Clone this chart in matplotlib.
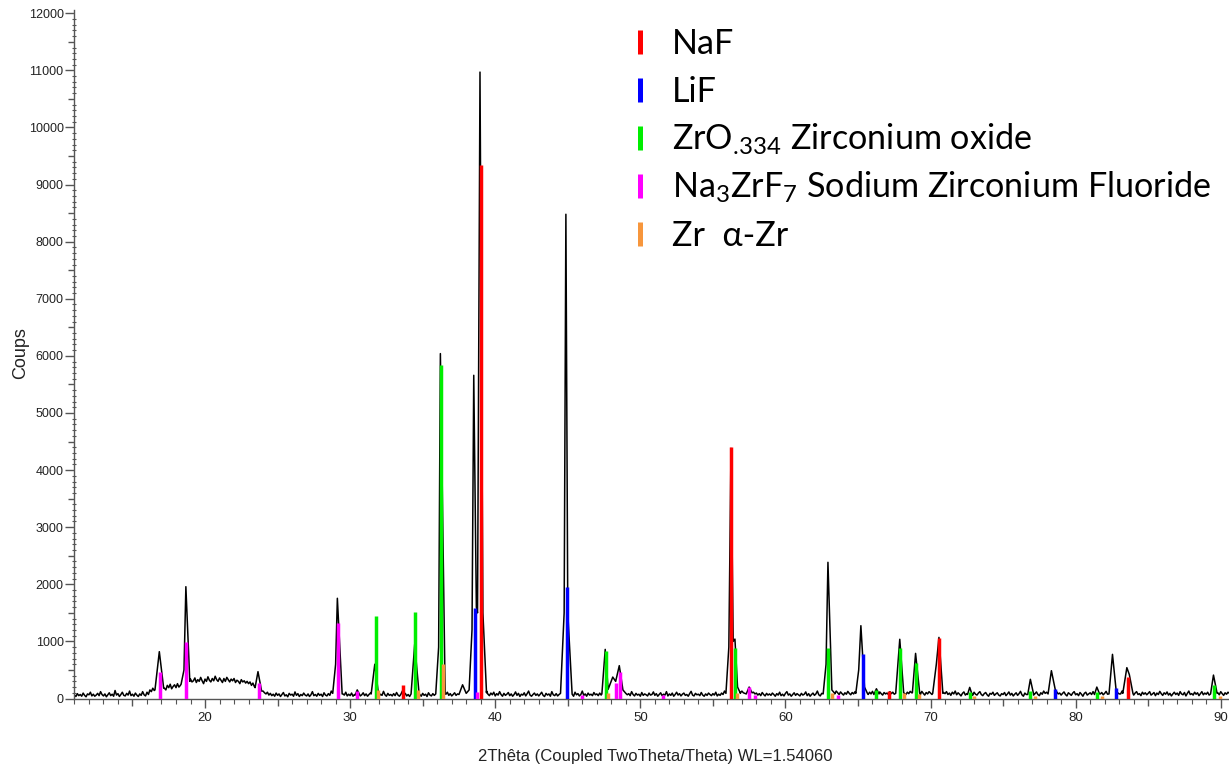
import numpy as np
import matplotlib
matplotlib.use("Agg")
import matplotlib.pyplot as plt
from matplotlib.lines import Line2D
from matplotlib.ticker import MultipleLocator

plt.rcParams['font.family'] = ['Liberation Sans', 'DejaVu Sans']
plt.rcParams['mathtext.fontset'] = 'custom'
plt.rcParams['mathtext.rm'] = 'Lato'
plt.rcParams['mathtext.it'] = 'Lato:italic'
plt.rcParams['mathtext.bf'] = 'Lato:bold'

# background counts, one value every 0.1 deg starting at 11.0
background = [
    60, 35, 85, 50, 70, 40, 95, 55, 30, 80, 65, 110, 45, 75, 40, 60, 90, 50, 120, 70,
    45, 80, 30, 65, 100, 50, 75, 40, 140, 60, 85, 35, 70, 110, 55, 45, 90, 60, 130, 50,
    75, 40, 95, 60, 35, 80, 55, 120, 65, 45, 110, 70, 150, 120, 180, 140, 170, 200, 150, 190,
    160, 220, 180, 150, 230, 190, 250, 170, 210, 240, 190, 260, 200, 230, 280, 250, 300, 270, 320, 280,
    340, 290, 310, 360, 280, 330, 300, 370, 310, 260, 340, 300, 380, 320, 290, 350, 310, 390, 330, 300,
    360, 320, 280, 350, 300, 370, 330, 290, 340, 310, 350, 280, 320, 300, 260, 330, 290, 310, 270, 300,
    260, 290, 230, 270, 210, 250, 200, 180, 220, 160, 130, 100, 80, 110, 60, 90, 50, 75, 40, 95,
    55, 80, 35, 70, 105, 45, 65, 30, 90, 60, 75, 40, 115, 55, 85, 35, 70, 50, 95, 60,
    45, 80, 35, 65, 120, 50, 70, 40, 90, 55, 75, 35, 100, 60, 45, 85, 55, 130, 65, 40,
    70, 45, 90, 55, 35, 80, 60, 110, 45, 75, 50, 95, 40, 70, 120, 55, 85, 45, 65, 100,
    50, 80, 40, 70, 95, 55, 35, 85, 60, 110, 45, 75, 55, 125, 65, 40, 90, 55, 70, 45,
    85, 50, 105, 60, 40, 75, 130, 55, 90, 45, 70, 35, 95, 60, 80, 45, 110, 55, 70, 40,
    90, 55, 75, 35, 100, 60, 45, 85, 55, 120, 65, 40, 80, 50, 95, 60, 75, 110, 55, 85,
    45, 70, 100, 55, 80, 130, 95, 150, 110, 140, 90, 120, 75, 100, 60, 85, 110, 70, 130, 90,
    120, 80, 100, 60, 130, 75, 50, 95, 65, 110, 45, 85, 60, 120, 70, 40, 90, 55, 75, 105,
    50, 80, 40, 70, 115, 55, 90, 35, 75, 60, 100, 45, 85, 130, 60, 40, 70, 95, 55, 80,
    45, 75, 110, 55, 35, 90, 60, 80, 40, 120, 65, 50, 85, 45, 70, 100, 60, 90, 55, 75,
    60, 95, 50, 75, 40, 110, 65, 85, 45, 70, 130, 55, 80, 40, 95, 60, 75, 50, 105, 65,
    80, 50, 95, 60, 120, 150, 110, 90, 140, 170, 200, 160, 230, 190, 240, 200, 170, 130, 110, 90,
    100, 65, 85, 50, 120, 70, 45, 90, 60, 75, 40, 105, 55, 80, 65, 45, 95, 60, 70, 115,
    55, 85, 40, 70, 100, 50, 75, 60, 120, 45, 80, 55, 95, 40, 70, 110, 60, 85, 45, 75,
    95, 55, 70, 40, 85, 125, 60, 45, 90, 65, 75, 50, 105, 60, 40, 80, 55, 95, 70, 50,
    85, 60, 110, 45, 75, 55, 95, 70, 130, 80, 100, 150, 110, 90, 120, 140, 180, 150, 120, 100,
    130, 100, 90, 120, 150, 180, 120, 140, 110, 80, 95, 60, 85, 50, 105, 70, 45, 90, 60, 80,
    55, 95, 70, 40, 85, 60, 110, 50, 75, 45, 90, 120, 60, 80, 40, 70, 100, 55, 85, 65,
    45, 90, 60, 75, 115, 50, 85, 40, 70, 95, 55, 80, 130, 65, 45, 90, 60, 110, 75, 95,
    120, 90, 140, 110, 80, 130, 100, 70, 115, 85, 60, 100, 75, 125, 90, 65, 105, 80, 120, 95,
    110, 85, 130, 100, 140, 120, 90, 70, 110, 80, 125, 95, 65, 100, 75, 115, 85, 60, 105, 80,
    95, 70, 120, 85, 110, 75, 130, 95, 65, 100, 80, 120, 90, 70, 110, 85, 125, 100, 75, 95,
    115, 85, 100, 70, 125, 90, 60, 105, 80, 120, 95, 70, 110, 85, 130, 100, 75, 90, 60, 105,
    85, 120, 70, 95, 55, 110, 80, 130, 65, 100, 75, 45, 90, 115, 60, 85, 105, 70, 95, 55,
    110, 75, 60, 95, 120, 70, 50, 85, 105, 65, 40, 90, 75, 110, 55, 80, 100, 60, 45, 85,
    70, 105, 50, 80, 115, 60, 90, 45, 75, 100, 55, 85, 125, 65, 40, 95, 70, 110, 60, 80,
    95, 60, 85, 115, 70, 50, 100, 75, 130, 90, 110, 80, 120, 95, 140, 105, 85, 110, 70, 95,
    60, 90, 115, 70, 45, 100, 80, 55, 95, 120, 65, 85, 50, 105, 75, 40, 90, 110, 60, 80,
    100, 70, 120, 85, 55, 95, 115, 80, 105, 65, 90, 125, 75, 100, 140, 95, 120, 85, 110, 90,
    115, 80, 130, 100, 120, 90, 140, 110, 75, 100, 60, 95, 120, 70, 85, 50, 110, 75, 100, 65,
    90, 120, 60, 80, 105, 50, 95, 70, 125, 85, 55, 100, 75, 115, 60, 90, 45, 80, 110, 70,
    95, 55, 120, 80, 65, 105, 45, 90, 130, 70, 85, 60, 110, 75, 100, 50, 85, 120, 65, 95,
    75, 110, 60, 90, 130, 95, 115, 80, 100, 65, 120, 85, 55, 100, 75, 110, 90, 60, 95, 80,
]

# measured trace around each reflection: (2theta, counts) vertices
peaks = [
    [(16.55, 150), (16.85, 820), (17.15, 180)],
    [(18.35, 250), (18.55, 500), (18.68, 1958), (18.95, 300)],
    [(23.45, 190), (23.65, 470), (23.9, 130)],
    [(28.8, 90), (29.0, 600), (29.12, 1755), (29.45, 80)],
    [(30.35, 60), (30.49, 150), (30.65, 70)],
    [(31.45, 80), (31.7, 600), (31.95, 90)],
    [(34.2, 80), (34.45, 950), (34.75, 90)],
    [(35.9, 80), (36.1, 900), (36.22, 6040), (36.55, 80)],
    [(37.5, 70), (37.75, 240), (38.0, 90)],
    [(38.2, 150), (38.4, 1200), (38.52, 5660), (38.7, 1600), (38.78, 1500),
     (38.95, 10970), (39.15, 1500), (39.4, 100)],
    [(44.5, 90), (44.75, 1500), (44.87, 8480), (45.0, 1500), (45.3, 80)],
    [(47.35, 80), (47.58, 860), (47.78, 160), (48.1, 375), (48.3, 300),
     (48.55, 575), (48.8, 150), (49.0, 90)],
    [(55.9, 90), (56.1, 900), (56.25, 4380), (56.4, 1000), (56.52, 1040),
     (56.7, 200), (56.9, 90)],
    [(57.3, 80), (57.5, 200), (57.7, 100)],
    [(62.6, 80), (62.8, 600), (62.93, 2385), (63.2, 150), (63.4, 90)],
    [(64.85, 90), (65.05, 500), (65.2, 1275), (65.45, 200), (65.65, 90)],
    [(66.1, 70), (66.27, 170), (66.45, 80)],
    [(67.6, 90), (67.88, 1037), (68.15, 100)],
    [(68.75, 100), (68.97, 790), (69.25, 100)],
    [(70.15, 90), (70.4, 600), (70.58, 1070), (70.85, 90)],
    [(72.55, 70), (72.7, 195), (72.85, 80)],
    [(76.7, 70), (76.88, 336), (77.1, 80)],
    [(78.1, 80), (78.33, 487), (78.6, 150), (78.8, 80)],
    [(81.3, 70), (81.46, 200), (81.65, 80)],
    [(82.3, 80), (82.54, 773), (82.8, 120), (83.0, 80)],
    [(83.25, 90), (83.53, 540), (83.7, 420), (83.95, 90)],
    [(89.3, 80), (89.5, 410), (89.75, 90)],
]

# reference patterns (stick positions, intensities)
naf_pos = [33.63, 39.0, 56.27, 67.13, 70.56, 83.64]
naf_int = [230, 9345, 4410, 130, 1065, 382]
lif_pos = [38.62, 44.93, 65.36, 78.58, 82.8]
lif_int = [1580, 1960, 780, 160, 178]
zro_pos = [31.75, 34.5, 36.27, 47.6, 56.52, 62.9, 66.27, 67.88, 68.97, 72.69, 76.88, 81.46, 89.57]
zro_int = [1445, 1520, 5840, 837, 880, 880, 150, 880, 616, 120, 137, 120, 236]
nzf_pos = [16.91, 18.71, 23.71, 29.16, 30.49, 38.74, 46.0, 48.34, 48.59, 51.55, 57.5, 57.92, 63.6]
nzf_int = [470, 995, 265, 1330, 137, 115, 70, 277, 470, 60, 195, 60, 60]
zr_pos = [31.9, 34.66, 36.38, 47.77, 56.66, 63.18, 68.15, 69.18, 73.03, 77.2, 81.85, 89.98]
zr_int = [150, 150, 605, 95, 95, 95, 95, 80, 50, 40, 40, 40]

phases = [
    ("NaF", naf_pos, naf_int, "#ff0000"),
    ("LiF", lif_pos, lif_int, "#0000ff"),
    (r"ZrO$_{.\!334}$ Zirconium oxide", zro_pos, zro_int, "#00ee00"),
    ("Na$_3$ZrF$_7$ Sodium Zirconium Fluoride", nzf_pos, nzf_int, "#ff00ff"),
    ("Zr  \u03b1-Zr", zr_pos, zr_int, "#f7963c"),
]

# splice the peak vertices into the background trace
theta = 11.0 + 0.1 * np.arange(len(background))
counts = np.array(background, float)
keep = np.ones(len(theta), bool)
for pk in peaks:
    xs = [p[0] for p in pk]
    keep &= ~((theta >= min(xs)) & (theta <= max(xs)))
tx = np.concatenate([theta[keep]] + [np.array(pk)[:, 0] for pk in peaks])
ty = np.concatenate([counts[keep]] + [np.array(pk)[:, 1] for pk in peaks])
order = np.argsort(tx)
tx, ty = tx[order], ty[order]

W, H = 1229, 774
fig = plt.figure(figsize=(W / 100, H / 100), dpi=100)
ax = fig.add_axes([74 / W, 1 - 698.5 / H, (W - 74) / W, (698.5 - 10.4) / H])

ax.plot(tx, ty, color="black", lw=1.1, zorder=2)
for name, pos, inten, col in phases:
    ax.vlines(pos, 0, inten, color=col, lw=2.5, zorder=3)

ax.set_xlim(10.97, 90.57)
ax.set_ylim(0, 12050)

for s in ["top", "right"]:
    ax.spines[s].set_visible(False)
for s in ["left", "bottom"]:
    ax.spines[s].set_color("#555555")
    ax.spines[s].set_linewidth(1.0)

ax.xaxis.set_major_locator(MultipleLocator(5))
ax.xaxis.set_minor_locator(MultipleLocator(1))
ax.yaxis.set_major_locator(MultipleLocator(500))
ax.yaxis.set_minor_locator(MultipleLocator(100))
ax.tick_params(axis="x", which="major", direction="out", length=6.5, width=1,
               color="#555555", labelsize=9.5, labelcolor="#222222", pad=3)
ax.tick_params(axis="x", which="minor", direction="out", length=3.5, width=0.8, color="#555555")
ax.tick_params(axis="y", which="major", direction="out", length=6.5, width=1,
               color="#555555", labelsize=9, labelcolor="#222222", pad=1)
ax.tick_params(axis="y", which="minor", direction="inout", length=3.5, width=0.8, color="#555555")
ax.set_xticklabels([f"{v:.0f}" for v in ax.get_xticks()])
ax.set_yticklabels([f"{v:.0f}" for v in ax.get_yticks()])

for t, v in zip(ax.xaxis.get_major_ticks(), ax.get_xticks()):
    if v % 10:
        t.tick1line.set_markersize(5)
        t.label1.set_visible(False)
for t, v in zip(ax.yaxis.get_major_ticks(), ax.get_yticks()):
    if v % 1000:
        t.tick1line.set_markersize(4.5)
        t.label1.set_visible(False)

fig.text(655 / W, 1 - 757 / H, "2Th\u00eata (Coupled TwoTheta/Theta) WL=1.54060",
         ha="center", va="center", fontsize=12, color="#222222")
fig.text(21 / W, 1 - 353 / H, "Coups", rotation=90, ha="center", va="center",
         fontsize=13, color="#222222")

# legend drawn by hand
for i, (name, pos, inten, col) in enumerate(phases):
    base = 54 + 48 * i
    fig.add_artist(Line2D([639.5 / W, 639.5 / W], [1 - (base - 24) / H, 1 - base / H],
                          color=col, lw=3.6, solid_capstyle="butt"))
    fig.text(672 / W, 1 - base / H, name, ha="left", va="baseline", fontsize=24.6,
             family=["Lato", "DejaVu Sans"], color="black")

fig.savefig("out.png", dpi=100)
